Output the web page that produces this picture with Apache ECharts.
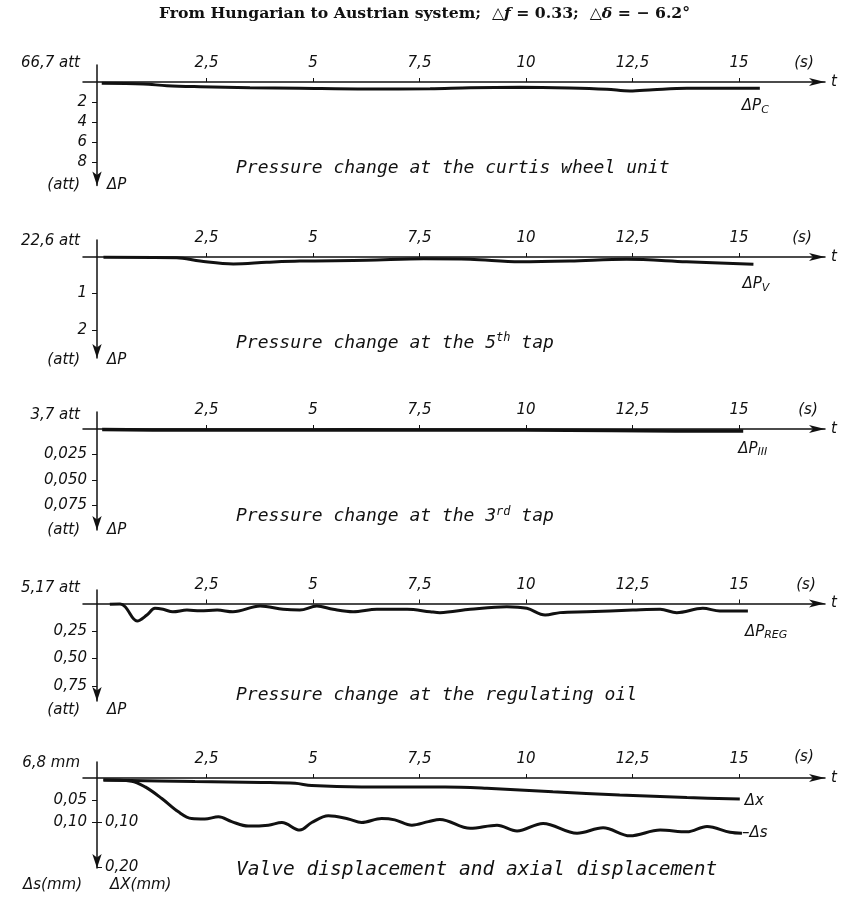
<!DOCTYPE html>
<html>
<head>
<meta charset="utf-8">
<script src="https://cdn.jsdelivr.net/npm/echarts@6/dist/echarts.min.js"></script>
<style>
  html, body { margin: 0; padding: 0; background: #fff; }
  #chart { width: 849px; height: 899px; }
</style>
</head>
<body>
<div id="chart"></div>
<script>
// ---- time axis (s) ----
const timeTicks = [2.5, 5, 7.5, 10, 12.5, 15];

// ---- ΔP_C : curtis wheel unit (att) ----
const tCurtis  = [0.04, 1.02, 1.57, 2.35, 3.52, 4.69, 6.26, 7.75, 8.69, 9.86, 11.03, 11.9, 12.44, 12.98, 13.78, 15.49];
const dpCurtis = [0.13, 0.2, 0.37, 0.47, 0.57, 0.63, 0.7, 0.67, 0.57, 0.53, 0.6, 0.73, 0.9, 0.77, 0.63, 0.63];

// ---- ΔP_V : 5th tap (att) ----
const tTap5  = [0.08, 1.8, 2.35, 3.13, 3.91, 4.69, 6.26, 7.6, 8.69, 9.86, 11.03, 12.36, 13.77, 15.34];
const dpTap5 = [0.01, 0.02, 0.11, 0.19, 0.145, 0.11, 0.09, 0.05, 0.063, 0.13, 0.11, 0.063, 0.13, 0.2];

// ---- ΔP_III : 3rd tap (att) ----
const tTap3  = [0.05, 2, 4, 6, 8, 10, 12, 13.5, 15.1];
const dpTap3 = [0.0005, 0.001, 0.001, 0.0008, 0.001, 0.001, 0.0015, 0.002, 0.002];

// ---- ΔP_REG : regulating oil (att) ----
const tReg  = [0.23, 0.47, 0.59, 0.87, 1.1, 1.29, 1.48, 1.71, 2.04, 2.35, 2.75, 3.12, 3.76, 4.3, 4.69, 5.09, 5.47, 5.94, 6.5, 7.21, 7.75, 7.98, 8.69, 9.55, 10.02, 10.45, 10.8, 11.43, 12.51, 13.15, 13.54, 14.15, 14.55, 15.21];
const dpReg = [0.007, 0.005, 0.03, 0.16, 0.105, 0.044, 0.053, 0.075, 0.06, 0.066, 0.06, 0.075, 0.023, 0.053, 0.06, 0.023, 0.053, 0.075, 0.053, 0.053, 0.075, 0.083, 0.053, 0.029, 0.044, 0.105, 0.083, 0.075, 0.06, 0.053, 0.083, 0.044, 0.068, 0.068];

// ---- Δx : axial displacement (mm) ----
const tAxial  = [0.08, 2.23, 3.8, 4.58, 4.97, 6.14, 8.1, 9.08, 10.63, 12.2, 13.78, 15.02];
const dxAxial = [0.0045, 0.008, 0.01, 0.012, 0.017, 0.02, 0.02, 0.023, 0.031, 0.038, 0.044, 0.047];

// ---- Δs : valve displacement (mm) ----
const tValve  = [0.08, 0.74, 1.06, 1.45, 1.84, 2.15, 2.46, 2.78, 3.09, 3.48, 3.95, 4.27, 4.69, 4.97, 5.36, 5.83, 6.14, 6.61, 6.92, 7.32, 7.71, 7.98, 8.69, 9.32, 9.79, 10.4, 11.2, 11.81, 12.44, 13.15, 13.78, 14.25, 14.79, 15.07];
const dsValve = [0.0045, 0.007, 0.02, 0.046, 0.076, 0.091, 0.092, 0.087, 0.098, 0.108, 0.106, 0.1, 0.117, 0.1, 0.085, 0.092, 0.1, 0.091, 0.094, 0.106, 0.098, 0.093, 0.113, 0.106, 0.119, 0.102, 0.124, 0.112, 0.13, 0.117, 0.121, 0.109, 0.122, 0.124];

// ---- vertical tick values and their printed labels ----
const curtisTicks = [2, 4, 6, 8];           const curtisLabels = ['2', '4', '6', '8'];
const tap5Ticks   = [1, 2];                 const tap5Labels   = ['1', '2'];
const tap3Ticks   = [0.025, 0.05, 0.075];   const tap3Labels   = ['0,025', '0,050', '0,075'];
const regTicks    = [0.25, 0.5, 0.75];      const regLabels    = ['0,25', '0,50', '0,75'];
const valveTicks  = [0.05, 0.1];            const valveLabels  = ['0,05', '0,10'];
const axialTicks  = [0.1, 0.2];             const axialLabels  = ['0,10', '0,20'];

// ---- reference levels and captions ----
const baseLevels = ['66,7 att', '22,6 att', '3,7 att', '5,17 att', '6,8 mm'];
const captions = [
  'Pressure change at the curtis wheel unit',
  'Pressure change at the 5{sup|th} tap',
  'Pressure change at the 3{sup|rd} tap',
  'Pressure change at the regulating oil',
  'Valve displacement and axial displacement'
];

const zip = (xs, ys) => xs.map((x, i) => [x, ys[i]]);
const labelOf = (vals, texts) => v => {
  const i = vals.findIndex(u => Math.abs(u - v) < 1e-9);
  return i < 0 ? '' : texts[i];
};

const INK = '#111';
const SANS = '"DejaVu Sans", sans-serif';
const MONO = '"DejaVu Sans Mono", monospace';

// Panel geometry: grid top/height, value range of the downward axis,
// distance of the time labels from the grid top, and text anchors
const layout = [
  { top: 65,  height: 120.5, min: -1.7,     max: 10.35,  tMargin: -6,   ticks: curtisTicks, labels: curtisLabels, cap: 168,   unit: 185, base: 63,    sX: 804, sY: 63 },
  { top: 240, height: 118,   min: -0.466,   max: 2.767,  tMargin: -6,   ticks: tap5Ticks,   labels: tap5Labels,   cap: 343,   unit: 360, base: 241.5, sX: 802, sY: 238 },
  { top: 412, height: 118,   min: -0.01667, max: 0.099,  tMargin: -6,   ticks: tap3Ticks,   labels: tap3Labels,   cap: 516.5, unit: 530, base: 415,   sX: 808, sY: 410 },
  { top: 590, height: 111,   min: -0.1227,  max: 0.8864, tMargin: -2.5, ticks: regTicks,    labels: regLabels,    cap: 695,   unit: 710, base: 588,   sX: 806, sY: 585 },
  { top: 762, height: 106,   min: -0.036,   max: 0.2022, tMargin: -5,   ticks: valveTicks,  labels: valveLabels,  cap: 870,   unit: 885, base: 763,   sX: 804, sY: 757 }
];

const GRID_LEFT = 83, GRID_RIGHT_EDGE = 825, T_MIN = -0.4, T_MAX = 17.02;

const grids = [], xAxes = [], yAxes = [], series = [], titles = [], graphics = [];

const labelFont = { fontFamily: SANS, fontStyle: 'italic', fontSize: 15, color: INK };
const textStyle = (text, x, y, align) => ({
  type: 'text', x, y,
  style: { text, font: 'italic 15px ' + SANS, fill: INK, textAlign: align, textVerticalAlign: 'middle' }
});

layout.forEach((p, i) => {
  grids.push({ left: GRID_LEFT, width: GRID_RIGHT_EDGE - GRID_LEFT, top: p.top, height: p.height, outerBoundsMode: 'none', containLabel: false });
  xAxes.push({
    gridIndex: i, type: 'value', min: T_MIN, max: T_MAX, position: 'top',
    axisLine: { onZero: true, symbol: ['none', 'arrow'], symbolSize: [6, 16], lineStyle: { color: INK, width: 1.5 } },
    axisTick: { customValues: timeTicks, inside: false, length: 4, lineStyle: { color: INK, width: 1 } },
    axisLabel: Object.assign({ customValues: timeTicks, margin: p.tMargin, formatter: v => String(v).replace('.', ',') }, labelFont),
    splitLine: { show: false },
    name: 't', nameLocation: 'end', nameGap: 6,
    nameTextStyle: Object.assign({}, labelFont)
  });
  yAxes.push({
    gridIndex: i, type: 'value', inverse: true, min: p.min, max: p.max, position: 'left', offset: -14,
    axisLine: { onZero: false, show: true, symbol: ['arrow', 'none'], symbolSize: [7, 14], lineStyle: { color: INK, width: 1.5 } },
    axisTick: { customValues: p.ticks, length: 5, lineStyle: { color: INK, width: 1 } },
    axisLabel: Object.assign({ customValues: p.ticks, margin: 10, formatter: labelOf(p.ticks, p.labels) }, labelFont),
    splitLine: { show: false }
  });

  // reference level written above the vertical axis, and the time unit
  graphics.push(textStyle(baseLevels[i], 80, p.base, 'right'));
  graphics.push(textStyle('(s)', p.sX, p.sY, 'center'));
  // panel caption
  titles.push({
    text: captions[i], left: 236, top: p.cap - 11, padding: 0,
    textStyle: {
      fontFamily: MONO, fontStyle: 'italic', fontWeight: 'normal', fontSize: i === 4 ? 19.5 : 18, lineHeight: 22, color: INK,
      rich: {
        sup: { fontFamily: MONO, fontStyle: 'italic', fontSize: 12, lineHeight: 6, verticalAlign: 'top', color: INK }
      }
    }
  });
});

// second scale of the displacement panel (ΔX), on the right of the same axis
yAxes.push({
  gridIndex: 4, type: 'value', inverse: true, min: layout[4].min, max: layout[4].max, position: 'right', offset: -(GRID_RIGHT_EDGE - 97),
  axisLine: { onZero: false, show: false },
  axisTick: { show: true, customValues: axialTicks, length: 5, lineStyle: { color: INK, width: 1 } },
  axisLabel: Object.assign({ customValues: axialTicks, margin: 8, formatter: labelOf(axialTicks, axialLabels) }, labelFont),
  splitLine: { show: false }
});

// unit texts at the foot of each vertical axis
[0, 1, 2, 3].forEach(i => {
  graphics.push(textStyle('(att)', 80, layout[i].unit, 'right'));
  graphics.push(textStyle('ΔP', 107, layout[i].unit, 'left'));
});
graphics.push(textStyle('Δs(mm)', 82, 885, 'right'));
graphics.push(textStyle('ΔX(mm)', 110, 885, 'left'));

const subRich = {
  a: { fontFamily: SANS, fontStyle: 'italic', fontSize: 15, lineHeight: 18, color: INK },
  b: { fontFamily: SANS, fontStyle: 'italic', fontSize: 11, lineHeight: 6, verticalAlign: 'bottom', color: INK }
};
function curve(name, idx, data, label, offset) {
  return {
    name, type: 'line', xAxisIndex: idx, yAxisIndex: idx, data,
    smooth: 0.35, showSymbol: false, symbol: 'none', clip: false,
    lineStyle: { color: INK, width: 3 },
    endLabel: { show: true, formatter: () => label, distance: 0, offset, rich: subRich, align: 'left', verticalAlign: 'middle' }
  };
}

series.push(curve('ΔP_C', 0, zip(tCurtis, dpCurtis), '{a|ΔP}{b|C}', [-18, 18]));
series.push(curve('ΔP_V', 1, zip(tTap5, dpTap5), '{a|ΔP}{b|V}', [-11, 20]));
series.push(curve('ΔP_III', 2, zip(tTap3, dpTap3), '{a|ΔP}{b|III}', [-5, 18]));
series.push(curve('ΔP_REG', 3, zip(tReg, dpReg), '{a|ΔP}{b|REG}', [-3, 21]));
series.push(curve('Δx', 4, zip(tAxial, dxAxial), '{a|Δx}', [5, 2]));
series.push(curve('Δs', 4, zip(tValve, dsValve), '{a|–Δs}', [0, 0]));
series[2].lineStyle.width = 3.5;

titles.unshift({
  text: '{r|From Hungarian to Austrian system;  △}{i|f}{r| = 0.33;  △}{i|δ}{r| = − 6.2°}',
  left: 'center', top: 5, padding: 0,
  textStyle: {
    rich: {
      r: { fontFamily: '"DejaVu Serif", serif', fontWeight: 'bold', fontSize: 15.7, lineHeight: 18, color: INK },
      i: { fontFamily: '"DejaVu Serif", serif', fontStyle: 'italic', fontWeight: 'bold', fontSize: 15.7, lineHeight: 18, color: INK }
    }
  }
});

const chart = echarts.init(document.getElementById('chart'), null, { renderer: 'canvas' });
chart.setOption({
  backgroundColor: '#fff',
  animation: false,
  title: titles,
  grid: grids,
  xAxis: xAxes,
  yAxis: yAxes,
  series,
  graphic: graphics
});
</script>
</body>
</html>
